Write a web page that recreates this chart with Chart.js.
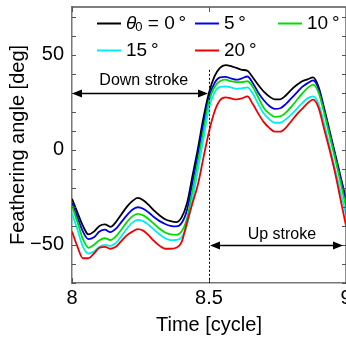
<!DOCTYPE html>
<html><head><meta charset="utf-8">
<script src="https://cdn.jsdelivr.net/npm/chart.js@4/dist/chart.umd.min.js"></script>
<style>
html,body{margin:0;padding:0;overflow:hidden;background:#fff;width:346px;height:339px}
#wrap{position:absolute;left:0;top:0;width:360px;height:339px}
</style>
</head><body><div id="wrap"><canvas id="c" width="360" height="339"></canvas></div>
<script>
// Time axis samples [cycle]
const times = [8.00,8.02,8.04,8.06,8.08,8.10,8.12,8.14,8.16,8.18,8.20,8.22,8.24,8.26,8.28,8.30,8.32,8.34,8.36,8.38,8.40,8.42,8.44,8.46,8.48,8.50,8.52,8.54,8.56,8.58,8.60,8.62,8.64,8.66,8.68,8.70,8.72,8.74,8.76,8.78,8.80,8.82,8.84,8.86,8.88,8.90,8.92,8.94,8.96,8.98,9.00];
// Feathering angle [deg] for each theta0
const theta0_0  = [-25.8,-33,-40,-44.5,-43,-40,-39.2,-40.5,-38,-34,-30,-27,-25.3,-26.5,-29,-32,-34.5,-36.5,-37.5,-38,-35.5,-28,-13.5,1,17,30,38.5,43,44.5,44,43,42,41.5,38,34,30.5,28,26.5,26.5,28.5,31.5,34,36,37,38,33,22,10,-2,-14,-26];
const theta0_5  = [-28,-35.5,-43,-47,-46,-43,-42,-43.3,-41.5,-38,-34.5,-31.5,-30.2,-31,-33,-35.5,-37.5,-39,-40,-40.3,-38.5,-31.5,-17,-2,14,27.5,35,38,38.3,37.5,36.8,37.5,38.5,35,30,26,23,21.5,21.8,24,27,30,33,35,36.5,32,21,9,-3,-15,-28];
const theta0_10 = [-29.5,-38,-47,-51.5,-50,-47.5,-46.5,-47.4,-45.5,-42,-38,-35,-33.7,-34.5,-36.5,-39,-41.5,-43.5,-44.5,-44.7,-43,-36,-21.5,-6,10,25.5,33,36,36.8,36,35.5,35.5,36,33,27.5,22,19,17.3,17.5,19.5,22.5,26,29.5,32.5,34.2,30,19.5,7.5,-4.5,-17,-30];
const theta0_15 = [-33.5,-42,-51,-54.5,-53.5,-51,-50,-50.5,-49,-45.5,-41.5,-38.3,-36.8,-37.5,-39.5,-42,-44.5,-46.5,-47.5,-47.4,-46,-39.5,-26,-10,6,22,30,33,33.3,32.8,32,32.3,32.8,29.5,24,19,16,14.2,14.2,16,18.5,21.5,24.5,27,28,24,14,2,-10,-22,-34];
const theta0_20 = [-43,-51,-57,-57,-54.5,-51.5,-51,-52,-51,-48,-45,-43,-41.7,-42.5,-45,-48,-50.5,-52,-52,-51.5,-48.5,-38,-28,-18,-4,9.5,20,26,27.5,27,26.5,27,28,24,19,14.5,11.5,9.5,9.5,11.5,15,18.5,21.5,24.5,26.3,22,11,0,-12,-26,-40];
const seriesValues = [theta0_0, theta0_5, theta0_10, theta0_15, theta0_20];
const seriesLabels = ['0', '5', '10', '15', '20'];
const seriesColors = ['#000000', '#0000ee', '#00dd00', '#00eeee', '#ee0000'];
const xTickValues = [8, 8.5, 9];
const yTickValues = [-70,-60,-50,-40,-30,-20,-10,0,10,20,30,40,50,60,70];
const yLabelValues = [-50, 0, 50];
const strokeBoundary = 8.5;

const FONT = "'Liberation Sans', Arial, Helvetica, sans-serif";

const datasets = seriesValues.map((vals, i) => ({
  label: seriesLabels[i],
  data: times.map((t, k) => ({x: t, y: vals[k]})),
  borderColor: seriesColors[i],
  borderWidth: 1.8,
  pointRadius: 0,
  fill: false,
  cubicInterpolationMode: 'monotone'
})).reverse();

function arrowHead(ctx, tipX, tipY, dir) {
  ctx.beginPath();
  ctx.moveTo(tipX, tipY);
  ctx.lineTo(tipX - dir * 10, tipY - 4);
  ctx.lineTo(tipX - dir * 10, tipY + 4);
  ctx.closePath();
  ctx.fill();
}
function doubleArrow(ctx, x1, x2, yy) {
  ctx.beginPath();
  ctx.moveTo(x1 + 5, yy); ctx.lineTo(x2 - 5, yy); ctx.stroke();
  arrowHead(ctx, x1, yy, -1);
  arrowHead(ctx, x2, yy, 1);
}

const deco = {
  id: 'deco',
  afterDatasetsDraw(chart) {
    const {ctx, chartArea: a, scales: {x, y}} = chart;
    ctx.save();
    // top and right frame
    ctx.strokeStyle = '#555'; ctx.lineWidth = 1.3;
    ctx.beginPath(); ctx.moveTo(a.left, a.top); ctx.lineTo(a.right, a.top); ctx.lineTo(a.right, a.bottom); ctx.stroke();
    // inward tick marks
    ctx.strokeStyle = '#555'; ctx.lineWidth = 1;
    yTickValues.forEach(v => {
      const py = Math.round(y.getPixelForValue(v)) + 0.5;
      ctx.beginPath();
      ctx.moveTo(a.left, py); ctx.lineTo(a.left + 4, py);
      ctx.moveTo(a.right - 4, py); ctx.lineTo(a.right, py);
      ctx.stroke();
    });
    xTickValues.forEach(v => {
      const px = Math.round(x.getPixelForValue(v)) + 0.5;
      ctx.beginPath();
      ctx.moveTo(px, a.top); ctx.lineTo(px, a.top + 5);
      ctx.moveTo(px, a.bottom); ctx.lineTo(px, a.bottom - 5);
      ctx.stroke();
    });
    // dotted stroke boundary
    const bx = Math.round(x.getPixelForValue(strokeBoundary)) + 0.5;
    ctx.strokeStyle = '#000'; ctx.lineWidth = 1; ctx.setLineDash([2, 2]);
    ctx.beginPath(); ctx.moveTo(bx, y.getPixelForValue(42)); ctx.lineTo(bx, a.bottom); ctx.stroke();
    ctx.setLineDash([]);
    // arrows
    ctx.strokeStyle = '#000'; ctx.fillStyle = '#000'; ctx.lineWidth = 1.5;
    const yDown = Math.round(y.getPixelForValue(30)) + 0.5;
    doubleArrow(ctx, x.getPixelForValue(8), x.getPixelForValue(8.5) - 1, yDown);
    const yUp = Math.round(y.getPixelForValue(-50)) + 0.5;
    doubleArrow(ctx, x.getPixelForValue(8.5) + 1, x.getPixelForValue(9) - 3, yUp);
    ctx.font = '16px ' + FONT;
    ctx.textAlign = 'center'; ctx.textBaseline = 'middle';
    ctx.fillText('Down stroke', x.getPixelForValue(8.262), y.getPixelForValue(36.5));
    ctx.fillText('Up stroke', x.getPixelForValue(8.766), y.getPixelForValue(-44.7));
    // legend
    const rows = [a.top + 16, a.top + 43];
    const cols = [a.left + 25, a.left + 123, a.left + 206];
    const slots = [[0,0],[0,1],[0,2],[1,0],[1,1]];
    ctx.lineWidth = 2;
    seriesLabels.forEach((lab, i) => {
      const [r, c] = slots[i];
      const ly = rows[r] + 0.5, lx = cols[c];
      ctx.strokeStyle = seriesColors[i];
      ctx.beginPath(); ctx.moveTo(lx, ly); ctx.lineTo(lx + 24, ly); ctx.stroke();
      ctx.fillStyle = '#000';
      ctx.textAlign = 'left'; ctx.textBaseline = 'middle';
      let tx = lx + 29;
      if (i === 0) {
        ctx.font = 'italic 19px ' + FONT;
        ctx.fillText('\u03b8', tx, ly);
        tx += ctx.measureText('\u03b8').width;
        ctx.font = '13px ' + FONT;
        ctx.fillText('0', tx - 1, ly + 4);
        tx += ctx.measureText('0').width - 1;
        ctx.font = '19px ' + FONT;
        const s = ' = ' + lab + '\u2009\u00b0';
        ctx.fillText(s, tx, ly);
      } else {
        ctx.font = '19px ' + FONT;
        ctx.fillText(lab + '\u2009\u00b0', tx, ly);
      }
    });
    ctx.restore();
  }
};

new Chart(document.getElementById('c'), {
  type: 'line',
  data: {datasets},
  options: {
    responsive: false,
    animation: false,
    devicePixelRatio: 1,
    layout: {padding: {top: 7, right: 14, bottom: 0, left: 0}},
    plugins: {legend: {display: false}, tooltip: {enabled: false}},
    scales: {
      x: {
        type: 'linear', min: 8, max: 9,
        afterBuildTicks: s => { s.ticks = xTickValues.map(v => ({value: v})); },
        afterFit: s => { s.height = 56; s.paddingLeft = 0; s.paddingRight = 0; },
        grid: {display: false, drawTicks: false},
        border: {display: true, color: '#777', width: 1.5},
        ticks: {color: '#000', font: {family: FONT, size: 20}, padding: 3, maxRotation: 0,
          callback: v => String(v)},
        title: {display: true, text: 'Time [cycle]', color: '#000', font: {family: FONT, size: 20}, padding: {top: 0, bottom: 2}}
      },
      y: {
        type: 'linear', min: -70, max: 75,
        afterBuildTicks: s => { s.ticks = yTickValues.map(v => ({value: v})); },
        afterFit: s => { s.width = 72; s.paddingTop = 0; s.paddingBottom = 0; },
        grid: {display: false, drawTicks: false},
        border: {display: true, color: '#777', width: 1.5},
        ticks: {color: '#000', font: {family: FONT, size: 20}, padding: 8, autoSkip: false,
          callback: v => yLabelValues.includes(v) ? (v < 0 ? '\u2212' + Math.abs(v) : String(v)) : ''},
        title: {display: true, text: 'Feathering angle [deg]', color: '#000', font: {family: FONT, size: 20}, padding: {top: 6, bottom: 0}}
      }
    }
  },
  plugins: [deco]
});
</script>
</body></html>
